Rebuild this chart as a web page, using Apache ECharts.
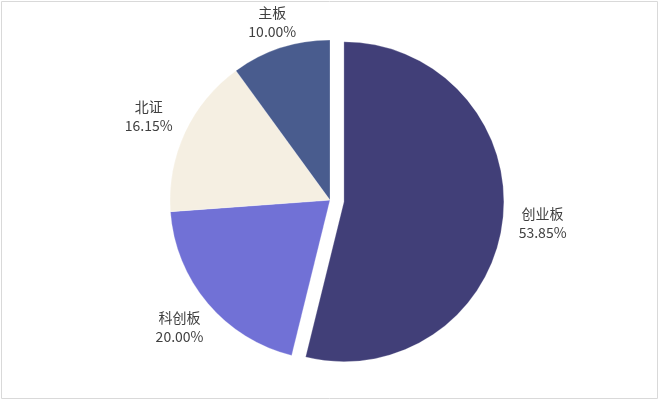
<!DOCTYPE html>
<html>
<head>
<meta charset="utf-8">
<script src="https://cdn.jsdelivr.net/npm/echarts@6/dist/echarts.min.js"></script>
<style>
  html, body { margin: 0; padding: 0; background: #fff; }
  #chart { width: 660px; height: 410px; }
</style>
</head>
<body>
<div id="chart"></div>
<script>
const names = ['创业板', '科创板', '北证', '主板'];
const shares = [53.85, 20.00, 16.15, 10.00];
const colors = ['#413f78', '#7171d6', '#f5efe2', '#495c8e'];

const radius = 160;
const centerPct = [0.5, 0.488];
const explode = 14;

const chart = echarts.init(document.getElementById('chart'));

const total = shares.reduce((a, b) => a + b, 0);

// middle angle of each slice, clockwise from 12 o'clock
function midAngle(i) {
  let start = 0;
  for (let k = 0; k < i; k++) start += shares[k];
  return (start + shares[i] / 2) / total * Math.PI * 2;
}

chart.setOption({
  animation: false,
  graphic: [{
    type: 'rect',
    shape: { x: 1.5, y: 1.5, width: 656, height: 397 },
    style: { fill: 'none', stroke: '#d9d9d9', lineWidth: 1 },
    silent: true
  }],
  series: [{
    type: 'pie',
    radius: radius,
    center: [centerPct[0] * 100 + '%', centerPct[1] * 100 + '%'],
    startAngle: 90,
    clockwise: true,
    selectedMode: 'multiple',
    selectedOffset: explode,
    itemStyle: { borderColor: 'rgba(255,255,255,0.5)', borderWidth: 0.5 },
    label: {
      position: 'outside',
      formatter: p => p.name + '\n' + p.value.toFixed(2) + '%',
      fontFamily: '"Noto Sans CJK SC", sans-serif',
      fontSize: 14,
      lineHeight: 19,
      color: '#404040'
    },
    // the exploded slice keeps the library's outside placement, so its
    // label sits at length + length2 from the rim
    labelLine: { show: false, length: 15, length2: 20 },
    // centred labels just outside the rim for the other slices
    labelLayout: function (p) {
      const a = midAngle(p.dataIndex);
      const s = Math.sin(a), c = Math.cos(a);
      const cx = chart.getWidth() * centerPct[0];
      const cy = chart.getHeight() * centerPct[1];
      const R = radius + 20 + 22 * Math.abs(s);
      return {
        x: cx + R * s,
        y: cy - R * c,
        align: 'center',
        verticalAlign: 'middle'
      };
    },
    data: names.map((n, i) => ({
      name: n,
      value: shares[i],
      selected: i === 0,
      itemStyle: { color: colors[i] }
    }))
  }]
});
</script>
</body>
</html>
